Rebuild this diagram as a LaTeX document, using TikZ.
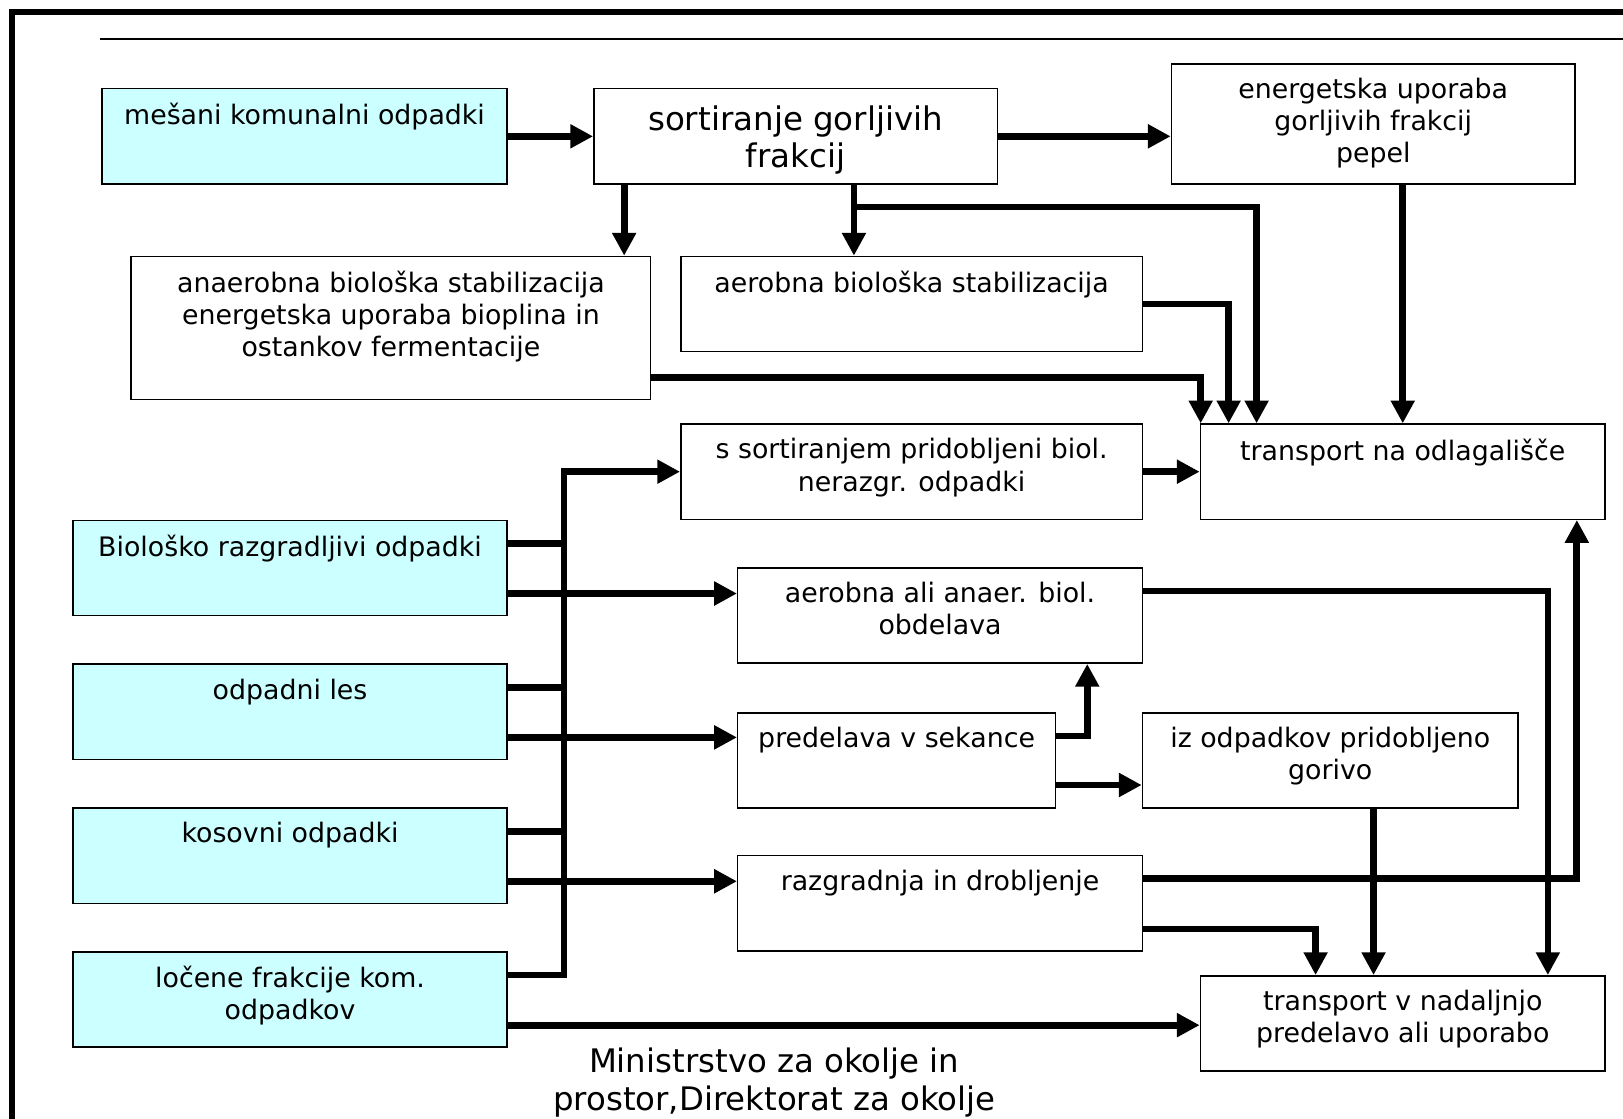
\documentclass[tikz,border=0pt]{standalone}
\usepackage{fontspec}
\setmainfont{DejaVu Sans}
\usetikzlibrary{arrows.meta,positioning}
\definecolor{inputcyan}{HTML}{CCFFFF}

\begin{document}
\begin{tikzpicture}[x=1pt, y=-1pt,
    box/.style={draw=black, line width=1.4pt, anchor=north west, inner sep=0pt},
    inbox/.style={box, fill=inputcyan},
    lbl/.style={font=\fontsize{25.9}{31}\selectfont, align=center, inner sep=0pt},
    biglbl/.style={font=\fontsize{31.4}{36}\selectfont, align=center, inner sep=0pt},
    flow/.style={line width=6.5pt, -{Triangle[length=22pt, width=22pt]}},
    link/.style={line width=6.5pt}]
    % Page size as in the slide
    \useasboundingbox (0,0) rectangle (1568,1081);

    % Slide frame and header rule
    \draw[line width=5.5pt] (11.7,1081) -- (11.7,11.8) -- (1568,11.8);
    \draw[line width=2.5pt] (97,37.7) -- (1568,37.7);

    % Top row
    \node[inbox, minimum width=391, minimum height=92] (mesani) at (98,85) {};
    \node[lbl, below=14.5pt of mesani.north] (mesani-t) {mešani komunalni odpadki};
    \node[box, minimum width=390, minimum height=92] (sort) at (573,85) {};
    \node[biglbl, below=17pt of sort.north] (sort-t) {sortiranje gorljivih\\frakcij};
    \node[box, minimum width=390, minimum height=116] (energ) at (1131,61) {};
    \node[lbl, below=14.5pt of energ.north] (energ-t) {energetska uporaba\\gorljivih frakcij\\pepel};

    % Stabilisation
    \node[box, minimum width=502, minimum height=138] (anaer) at (126,247) {};
    \node[lbl, below=14.5pt of anaer.north] (anaer-t) {anaerobna biološka stabilizacija\\energetska uporaba bioplina in\\ostankov fermentacije};
    \node[box, minimum width=446, minimum height=92] (aerob) at (657,247) {};
    \node[lbl, below=14.5pt of aerob.north] (aerob-t) {aerobna biološka stabilizacija};

    % Landfill row
    \node[box, minimum width=446, minimum height=92] (sortbio) at (657,409) {};
    \node[lbl, below=14.5pt of sortbio.north] (sortbio-t) {s sortiranjem pridobljeni biol.\\nerazgr. odpadki};
    \node[box, minimum width=391, minimum height=92] (odlag) at (1159,409) {};
    \node[lbl, below=14.5pt of odlag.north] (odlag-t) {transport na odlagališče};

    % Separately collected waste (cyan)
    \node[inbox, minimum width=419, minimum height=92] (bioraz) at (70,502) {};
    \node[lbl, below=14.5pt of bioraz.north] (bioraz-t) {Biološko razgradljivi odpadki};
    \node[inbox, minimum width=419, minimum height=92] (les) at (70,641) {};
    \node[lbl, below=14.5pt of les.north] (les-t) {odpadni les};
    \node[inbox, minimum width=419, minimum height=92] (kosovni) at (70,780) {};
    \node[lbl, below=14.5pt of kosovni.north] (kosovni-t) {kosovni odpadki};
    \node[inbox, minimum width=419, minimum height=92] (locene) at (70,919) {};
    \node[lbl, below=14.5pt of locene.north] (locene-t) {ločene frakcije kom.\\odpadkov};

    % Treatment steps
    \node[box, minimum width=391, minimum height=92] (obdel) at (712,548) {};
    \node[lbl, below=14.5pt of obdel.north] (obdel-t) {aerobna ali anaer. biol.\\obdelava};
    \node[box, minimum width=307, minimum height=92] (sekance) at (712,688) {};
    \node[lbl, below=14.5pt of sekance.north] (sekance-t) {predelava v sekance};
    \node[box, minimum width=363, minimum height=92] (gorivo) at (1103,688) {};
    \node[lbl, below=14.5pt of gorivo.north] (gorivo-t) {iz odpadkov pridobljeno\\gorivo};
    \node[box, minimum width=391, minimum height=92] (drobl) at (712,826) {};
    \node[lbl, below=14.5pt of drobl.north] (drobl-t) {razgradnja in drobljenje};
    \node[box, minimum width=391, minimum height=92] (nadalj) at (1159,942) {};
    \node[lbl, below=14.5pt of nadalj.north] (nadalj-t) {transport v nadaljnjo\\predelavo ali uporabo};

    % Source
    \node[biglbl, font=\fontsize{31.3}{37}\selectfont, anchor=north] (ministrstvo) at (748,1012) {Ministrstvo za okolje in\\prostor,Direktorat za okolje};

    % Arrows from the sorting
    \draw[flow] (mesani) -- (sort);
    \draw[flow] (sort.east) -- (sort.east -| energ.west);
    \coordinate (sa) at ([xshift=30pt]sort.south west);
    \coordinate (sb) at ([xshift=252pt]sort.south west);
    \coordinate (kb) at (1214,200);
    \draw[flow] (sa) -- (sa |- anaer.north);
    \draw[flow] (sb) -- (sb |- aerob.north);
    \draw[flow] (sb |- kb) -- (kb) -- (kb |- odlag.north);

    % Arrows into the landfill transport
    \draw[flow] (aerob.east) -| ([xshift=28pt]odlag.north west);
    \draw[flow] ([yshift=22pt]anaer.south east) -| ([xshift=1pt]odlag.north west);
    \draw[flow] (energ.south -| odlag.north) -- (odlag.north);
    \draw[flow] (sortbio) -- (odlag);

    % Collecting line on the left
    \coordinate (bus) at (545,455);
    \draw[link] ([yshift=-23pt]bioraz.north east) -- ([yshift=-23pt]bioraz.north east -| bus);
    \draw[link] ([yshift=-23pt]les.north east) -- ([yshift=-23pt]les.north east -| bus);
    \draw[link] ([yshift=-23pt]kosovni.north east) -- ([yshift=-23pt]kosovni.north east -| bus);
    \draw[flow] ([yshift=-23pt]locene.north east) -| (sortbio.west -| bus) -- (sortbio.west);

    % Inputs to the treatment steps
    \draw[flow] ([yshift=22pt]bioraz.south east) -- ([yshift=22pt]bioraz.south east -| obdel.west);
    \draw[flow] ([yshift=22pt]les.south east) -- ([yshift=22pt]les.south east -| sekance.west);
    \draw[flow] ([yshift=22pt]kosovni.south east) -- ([yshift=22pt]kosovni.south east -| drobl.west);
    \draw[flow] ([yshift=22pt]locene.south east) -- ([yshift=22pt]locene.south east -| nadalj.west);

    % Between the treatment steps
    \draw[flow] ([yshift=-23pt]sekance.north east) -| ([xshift=-54pt]obdel.south east);
    \draw[flow] ([yshift=23pt]sekance.south east) -- ([yshift=23pt]sekance.south east -| gorivo.west);

    % Outputs to further transport
    \draw[flow] ([yshift=-23pt]obdel.north east) -| ([xshift=-56pt]nadalj.north east);
    \draw[flow] ([xshift=224pt]gorivo.south west) -- ([xshift=224pt]gorivo.south west |- nadalj.north);
    \draw[flow] ([yshift=-23pt]drobl.north east) -| ([xshift=-28pt]odlag.south east);
    \draw[flow] ([yshift=22pt]drobl.south east) -| ([xshift=112pt]nadalj.north west);
\end{tikzpicture}
\end{document}
